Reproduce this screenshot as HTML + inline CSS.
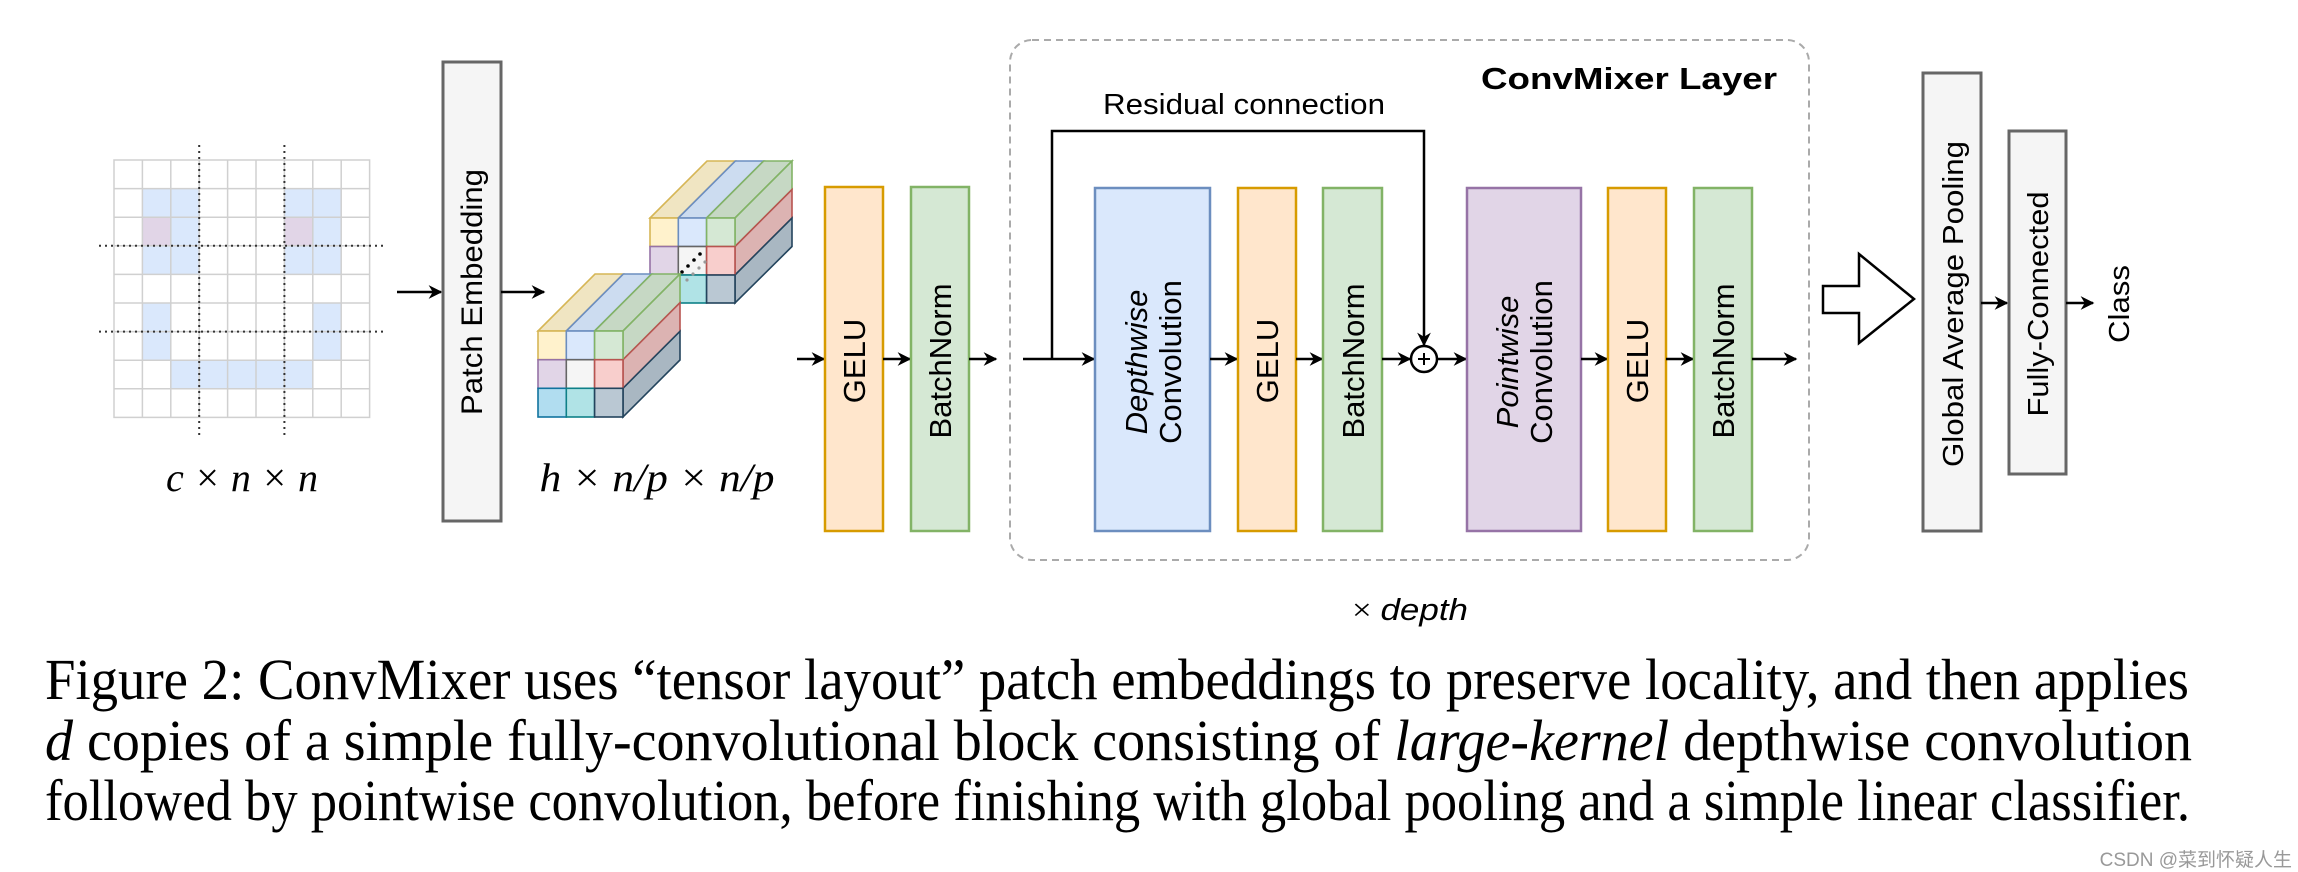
<!DOCTYPE html>
<html><head><meta charset="utf-8"><style>
html,body{margin:0;padding:0;background:#fff;}
svg{display:block}
</style></head><body>
<svg width="2298" height="872" viewBox="0 0 2298 872" xmlns="http://www.w3.org/2000/svg">
<defs>
<marker id="ar" viewBox="0 0 10 10" refX="9" refY="5" markerWidth="5.5" markerHeight="5.5" orient="auto" markerUnits="strokeWidth">
<path d="M0,0 L10,5 L0,10 L3,5 z" fill="#000"/>
</marker>
</defs>
<rect width="2298" height="872" fill="#fff"/>

<g id="grid">
<g fill="#dae8fc">
<rect x="142.4" y="188.6" width="56.8" height="85.8"/>
<rect x="284.4" y="188.6" width="56.8" height="85.8"/>
<rect x="142.4" y="303" width="28.4" height="57.2"/>
<rect x="313.2" y="303" width="28.4" height="57.2"/>
<rect x="170.8" y="360.2" width="142" height="28.6"/>
</g>
<g fill="#e1d5e7">
<rect x="142.4" y="217.2" width="28.4" height="28.6"/>
<rect x="284.4" y="217.2" width="28.4" height="28.6"/>
</g>
<g stroke="#d0d0d0" stroke-width="1.5" fill="none">
<rect x="114" y="160" width="255.6" height="257.4"/>
<path d="M142.4 160V417.4M170.8 160V417.4M199.2 160V417.4M227.6 160V417.4M256 160V417.4M284.4 160V417.4M312.8 160V417.4M341.2 160V417.4"/>
<path d="M114 188.6H369.6M114 217.2H369.6M114 245.8H369.6M114 274.4H369.6M114 303H369.6M114 331.6H369.6M114 360.2H369.6M114 388.8H369.6"/>
</g>
<g stroke="#333" stroke-width="2" stroke-dasharray="2,4" fill="none">
<path d="M199.2 145V439M284.4 145V439M99 245.8H384M99 331.6H384"/>
</g>
</g>
<text x="242" y="491" font-family="Liberation Serif, serif" font-style="italic" font-size="40" text-anchor="middle" textLength="152" lengthAdjust="spacingAndGlyphs">c × n × n</text>

<line x1="397" y1="292" x2="441" y2="292" stroke="#000" stroke-width="2.5" marker-end="url(#ar)"/>
<rect x="443" y="62" width="58" height="459" fill="#f5f5f5" stroke="#666" stroke-width="3"/>
<text transform="translate(482,292) rotate(-90)" font-family="Liberation Sans, sans-serif" font-size="30" text-anchor="middle" textLength="246" lengthAdjust="spacingAndGlyphs">Patch Embedding</text>
<line x1="501" y1="292" x2="544" y2="292" stroke="#000" stroke-width="2.5" marker-end="url(#ar)"/>

<g stroke-width="1.6">
<polygon points="650,218 678.3,218 735.3,161 707,161" fill="#f0e5c2" stroke="#d6b656"/>
<polygon points="678.3,218 706.6,218 763.6,161 735.3,161" fill="#ccdcf0" stroke="#6c8ebf"/>
<polygon points="706.6,218 735,218 792,161 763.6,161" fill="#c6d8c4" stroke="#82b366"/>
<polygon points="735,218 792,161 792,189.5 735,246.5" fill="#c6d8c4" stroke="#82b366"/>
<polygon points="735,246.5 792,189.5 792,218 735,275" fill="#dcb3b2" stroke="#b85450"/>
<polygon points="735,275 792,218 792,246.5 735,303" fill="#a9b7c2" stroke="#23445d"/>
<rect x="650" y="218" width="28.3" height="28.5" fill="#fff2cc" stroke="#d6b656"/>
<rect x="678.3" y="218" width="28.3" height="28.5" fill="#dae8fc" stroke="#6c8ebf"/>
<rect x="706.6" y="218" width="28.4" height="28.5" fill="#d5e8d4" stroke="#82b366"/>
<rect x="650" y="246.5" width="28.3" height="28.5" fill="#e1d5e7" stroke="#9673a6"/>
<rect x="678.3" y="246.5" width="28.3" height="28.5" fill="#f5f5f5" stroke="#666"/>
<rect x="706.6" y="246.5" width="28.4" height="28.5" fill="#f8cecc" stroke="#b85450"/>
<rect x="678.3" y="275" width="28.3" height="28" fill="#b0e3e6" stroke="#0e8088"/>
<rect x="706.6" y="275" width="28.4" height="28" fill="#bac8d3" stroke="#23445d"/>
</g>
<g fill="#000"><circle cx="700" cy="254" r="1.8"/><circle cx="694" cy="260" r="1.8"/><circle cx="688" cy="266" r="1.8"/><circle cx="682" cy="272" r="1.8"/></g>
<g fill="#999"><circle cx="705" cy="262" r="1.6"/><circle cx="699" cy="268" r="1.6"/><circle cx="693" cy="274" r="1.6"/><circle cx="687" cy="280" r="1.6"/></g>
<g stroke-width="1.6">
<polygon points="538,331 566.3,331 623.3,274 595,274" fill="#f0e5c2" stroke="#d6b656"/>
<polygon points="566.3,331 594.6,331 651.6,274 623.3,274" fill="#ccdcf0" stroke="#6c8ebf"/>
<polygon points="594.6,331 623,331 680,274 651.6,274" fill="#c6d8c4" stroke="#82b366"/>
<polygon points="623,331 680,274 680,302.7 623,359.7" fill="#c6d8c4" stroke="#82b366"/>
<polygon points="623,359.7 680,302.7 680,331.3 623,388.3" fill="#dcb3b2" stroke="#b85450"/>
<polygon points="623,388.3 680,331.3 680,360 623,417" fill="#a9b7c2" stroke="#23445d"/>
<rect x="538" y="331" width="28.3" height="28.7" fill="#fff2cc" stroke="#d6b656"/>
<rect x="566.3" y="331" width="28.3" height="28.7" fill="#dae8fc" stroke="#6c8ebf"/>
<rect x="594.6" y="331" width="28.4" height="28.7" fill="#d5e8d4" stroke="#82b366"/>
<rect x="538" y="359.7" width="28.3" height="28.6" fill="#e1d5e7" stroke="#9673a6"/>
<rect x="566.3" y="359.7" width="28.3" height="28.6" fill="#f5f5f5" stroke="#666"/>
<rect x="594.6" y="359.7" width="28.4" height="28.6" fill="#f8cecc" stroke="#b85450"/>
<rect x="538" y="388.3" width="28.3" height="28.7" fill="#b1ddf0" stroke="#10739e"/>
<rect x="566.3" y="388.3" width="28.3" height="28.7" fill="#b0e3e6" stroke="#0e8088"/>
<rect x="594.6" y="388.3" width="28.4" height="28.7" fill="#bac8d3" stroke="#23445d"/>
</g>
<text x="657" y="491" font-family="Liberation Serif, serif" font-style="italic" font-size="40" text-anchor="middle" textLength="235" lengthAdjust="spacingAndGlyphs">h × n/p × n/p</text>

<line x1="797" y1="359" x2="824" y2="359" stroke="#000" stroke-width="2.5" marker-end="url(#ar)"/>
<rect x="825" y="187" width="58" height="344" fill="#ffe6cc" stroke="#d79b00" stroke-width="2.5"/>
<text transform="translate(865,361) rotate(-90)" font-family="Liberation Sans, sans-serif" font-size="31" text-anchor="middle">GELU</text>
<line x1="883" y1="359" x2="910" y2="359" stroke="#000" stroke-width="2.5" marker-end="url(#ar)"/>
<rect x="911" y="187" width="58" height="344" fill="#d5e8d4" stroke="#82b366" stroke-width="2.5"/>
<text transform="translate(951,361) rotate(-90)" font-family="Liberation Sans, sans-serif" font-size="31" text-anchor="middle">BatchNorm</text>
<line x1="969" y1="359" x2="996" y2="359" stroke="#000" stroke-width="2.5" marker-end="url(#ar)"/>

<rect x="1010" y="40" width="799" height="520" rx="22" fill="none" stroke="#aaa" stroke-width="2" stroke-dasharray="7,5"/>
<text x="1629" y="89" font-family="Liberation Sans, sans-serif" font-weight="bold" font-size="31" text-anchor="middle" textLength="296" lengthAdjust="spacingAndGlyphs">ConvMixer Layer</text>
<text x="1244" y="114" font-family="Liberation Sans, sans-serif" font-size="29" text-anchor="middle" textLength="282" lengthAdjust="spacingAndGlyphs">Residual connection</text>
<polyline points="1052,359 1052,131 1424,131 1424,345" fill="none" stroke="#000" stroke-width="2.5" marker-end="url(#ar)"/>
<line x1="1023" y1="359" x2="1094" y2="359" stroke="#000" stroke-width="2.5" marker-end="url(#ar)"/>

<rect x="1095" y="188" width="115" height="343" fill="#dae8fc" stroke="#6c8ebf" stroke-width="2.5"/>
<text transform="translate(1147,362) rotate(-90)" font-family="Liberation Sans, sans-serif" font-size="31" font-style="italic" text-anchor="middle">Depthwise</text>
<text transform="translate(1181,362) rotate(-90)" font-family="Liberation Sans, sans-serif" font-size="31" text-anchor="middle">Convolution</text>
<line x1="1210" y1="359" x2="1237" y2="359" stroke="#000" stroke-width="2.5" marker-end="url(#ar)"/>
<rect x="1238" y="188" width="58" height="343" fill="#ffe6cc" stroke="#d79b00" stroke-width="2.5"/>
<text transform="translate(1278,361) rotate(-90)" font-family="Liberation Sans, sans-serif" font-size="31" text-anchor="middle">GELU</text>
<line x1="1296" y1="359" x2="1322" y2="359" stroke="#000" stroke-width="2.5" marker-end="url(#ar)"/>
<rect x="1323" y="188" width="59" height="343" fill="#d5e8d4" stroke="#82b366" stroke-width="2.5"/>
<text transform="translate(1364,361) rotate(-90)" font-family="Liberation Sans, sans-serif" font-size="31" text-anchor="middle">BatchNorm</text>
<line x1="1382" y1="359" x2="1410" y2="359" stroke="#000" stroke-width="2.5" marker-end="url(#ar)"/>
<circle cx="1424" cy="359" r="13" fill="#fff" stroke="#000" stroke-width="2.5"/>
<path d="M1418 359H1430M1424 353V365" stroke="#000" stroke-width="2"/>
<line x1="1437" y1="359" x2="1466" y2="359" stroke="#000" stroke-width="2.5" marker-end="url(#ar)"/>
<rect x="1467" y="188" width="114" height="343" fill="#e1d5e7" stroke="#9673a6" stroke-width="2.5"/>
<text transform="translate(1518,362) rotate(-90)" font-family="Liberation Sans, sans-serif" font-size="31" font-style="italic" text-anchor="middle">Pointwise</text>
<text transform="translate(1552,362) rotate(-90)" font-family="Liberation Sans, sans-serif" font-size="31" text-anchor="middle">Convolution</text>
<line x1="1581" y1="359" x2="1607" y2="359" stroke="#000" stroke-width="2.5" marker-end="url(#ar)"/>
<rect x="1608" y="188" width="58" height="343" fill="#ffe6cc" stroke="#d79b00" stroke-width="2.5"/>
<text transform="translate(1648,361) rotate(-90)" font-family="Liberation Sans, sans-serif" font-size="31" text-anchor="middle">GELU</text>
<line x1="1666" y1="359" x2="1693" y2="359" stroke="#000" stroke-width="2.5" marker-end="url(#ar)"/>
<rect x="1694" y="188" width="58" height="343" fill="#d5e8d4" stroke="#82b366" stroke-width="2.5"/>
<text transform="translate(1734,361) rotate(-90)" font-family="Liberation Sans, sans-serif" font-size="31" text-anchor="middle">BatchNorm</text>
<line x1="1752" y1="359" x2="1796" y2="359" stroke="#000" stroke-width="2.5" marker-end="url(#ar)"/>

<text x="1410" y="620" font-family="Liberation Sans, sans-serif" font-size="31" text-anchor="middle" textLength="116" lengthAdjust="spacingAndGlyphs"><tspan font-family="Liberation Serif, serif">× </tspan><tspan font-style="italic">depth</tspan></text>

<polygon points="1823,286 1859,286 1859,254 1914,299 1859,343 1859,313 1823,313" fill="#fff" stroke="#000" stroke-width="2.5"/>

<rect x="1923" y="73" width="58" height="458" fill="#f5f5f5" stroke="#666" stroke-width="3"/>
<text transform="translate(1963,304) rotate(-90)" font-family="Liberation Sans, sans-serif" font-size="29" text-anchor="middle" textLength="326" lengthAdjust="spacingAndGlyphs">Global Average Pooling</text>
<line x1="1981" y1="303" x2="2007" y2="303" stroke="#000" stroke-width="2.5" marker-end="url(#ar)"/>
<rect x="2009" y="131" width="57" height="343" fill="#f5f5f5" stroke="#666" stroke-width="3"/>
<text transform="translate(2048,304) rotate(-90)" font-family="Liberation Sans, sans-serif" font-size="29" text-anchor="middle" textLength="225" lengthAdjust="spacingAndGlyphs">Fully-Connected</text>
<line x1="2066" y1="303" x2="2093" y2="303" stroke="#000" stroke-width="2.5" marker-end="url(#ar)"/>
<text transform="translate(2129,304) rotate(-90)" font-family="Liberation Sans, sans-serif" font-size="29" text-anchor="middle" textLength="78" lengthAdjust="spacingAndGlyphs">Class</text>

<g font-family="Liberation Serif, serif" font-size="58" fill="#000">
<text x="45" y="699" textLength="2144" lengthAdjust="spacingAndGlyphs">Figure 2:  ConvMixer uses “tensor layout” patch embeddings to preserve locality, and then applies</text>
<text x="45" y="760" textLength="2147" lengthAdjust="spacingAndGlyphs"><tspan font-style="italic">d</tspan>  copies  of  a  simple  fully-convolutional  block  consisting  of  <tspan font-style="italic">large-kernel</tspan>  depthwise  convolution</text>
<text x="45" y="820" textLength="2145" lengthAdjust="spacingAndGlyphs">followed by pointwise convolution, before finishing with global pooling and a simple linear classifier.</text>
</g>
<text x="2292" y="866" font-family="Liberation Sans, 'Noto Sans CJK SC', sans-serif" font-size="19" fill="#999" text-anchor="end">CSDN @菜到怀疑人生</text>
</svg>
</body></html>
